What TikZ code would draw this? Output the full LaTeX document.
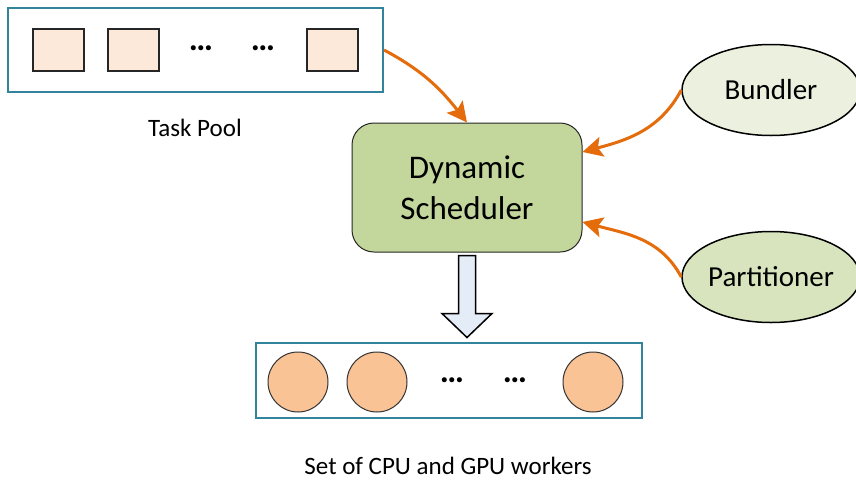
\documentclass[tikz,border=0pt]{standalone}
\usepackage{fontspec}
\setmainfont{Carlito}
\usetikzlibrary{shapes.geometric,arrows.meta}
\definecolor{teal}{HTML}{31849B}
\definecolor{sqfill}{HTML}{FDE9D9}
\definecolor{cfill}{HTML}{F9C396}
\definecolor{schedfill}{HTML}{C3D69B}
\definecolor{bundfill}{HTML}{EBF1DE}
\definecolor{partfill}{HTML}{D7E4BD}
\definecolor{blockfill}{HTML}{E4ECF7}
\definecolor{orng}{HTML}{E46C0A}
\tikzset{
  container/.style={draw=teal, line width=2pt, fill=white},
  tasksq/.style={draw=black!85, line width=1.5pt, fill=sqfill, minimum width=51pt, minimum height=42pt, inner sep=0pt},
  worker/.style={circle, draw=black!80, line width=1pt, fill=cfill, minimum size=60pt, inner sep=0pt},
  dots/.style={font=\fontsize{34}{36}\selectfont\bfseries, inner sep=0pt},
  sched/.style={draw=black!85, line width=1pt, fill=schedfill, rounded corners=22pt, minimum width=230pt, minimum height=129pt, align=center, font=\fontsize{33}{41}\selectfont},
  helper/.style={ellipse, draw=black, line width=1.5pt, minimum width=178pt, minimum height=91pt, inner sep=0pt, font=\fontsize{29}{34}\selectfont},
  flow/.style={draw=orng, line width=3pt, -{Stealth[length=20pt,width=20pt,inset=4pt]}},
  caption/.style={font=\fontsize{25}{30}\selectfont, inner sep=0pt}
}
\begin{document}
\begin{tikzpicture}[x=1pt,y=-1pt]
\useasboundingbox (0,0) rectangle (856,480);
\clip (0,0) rectangle (856,480);
% Task pool
\node[container, minimum width=375pt, minimum height=84pt, inner sep=0pt] (pool) at (195.5,50) {};
\node[tasksq] (t1) at (58.5,50) {};
\node[tasksq] (t2) at (133.5,50) {};
\node[dots] (d1) at (201,48) {…};
\node[dots] (d2) at (263,48) {…};
\node[tasksq] (t3) at (332.5,50) {};
\node[caption] (poolcap) at (195,128) {Task Pool};
% Scheduler
\node[sched] (sch) at (467,187.5) {Dynamic\\Scheduler};
% Helpers
\node[helper, fill=bundfill] (bund) at (771,90) {Bundler};
\node[helper, fill=partfill] (part) at (771,277) {Partitioner};
% Workers
\node[container, minimum width=386pt, minimum height=75pt, inner sep=0pt] (wk) at (449,380.5) {};
\node[worker] (w1) at (298,382) {};
\node[worker] (w2) at (377,382) {};
\node[dots] (d3) at (452,380) {…};
\node[dots] (d4) at (515,380) {…};
\node[worker] (w3) at (593,382) {};
\node[caption] (wkcap) at (448,466) {Set of CPU and GPU workers};
% orange connectors
\draw[flow] (pool.east |- 0,50) to[out=-28,in=128] (sch.north);
\draw[flow] (bund.west) to[out=-118,in=15] (sch.east |- 0,152);
\draw[flow] (part.west) to[out=118,in=-15] (sch.east |- 0,222);
% block arrow
\coordinate (ba) at (sch.south);
\draw[line width=1.5pt, fill=blockfill, line join=miter]
  ([xshift=-8.5pt,yshift=-3pt]ba) -- ([xshift=8.5pt,yshift=-3pt]ba)
  -- ([xshift=8.5pt,yshift=-61pt]ba) -- ([xshift=25pt,yshift=-61pt]ba)
  -- ([yshift=-85pt]ba) -- ([xshift=-25pt,yshift=-61pt]ba)
  -- ([xshift=-8.5pt,yshift=-61pt]ba) -- cycle;
\end{tikzpicture}
\end{document}
